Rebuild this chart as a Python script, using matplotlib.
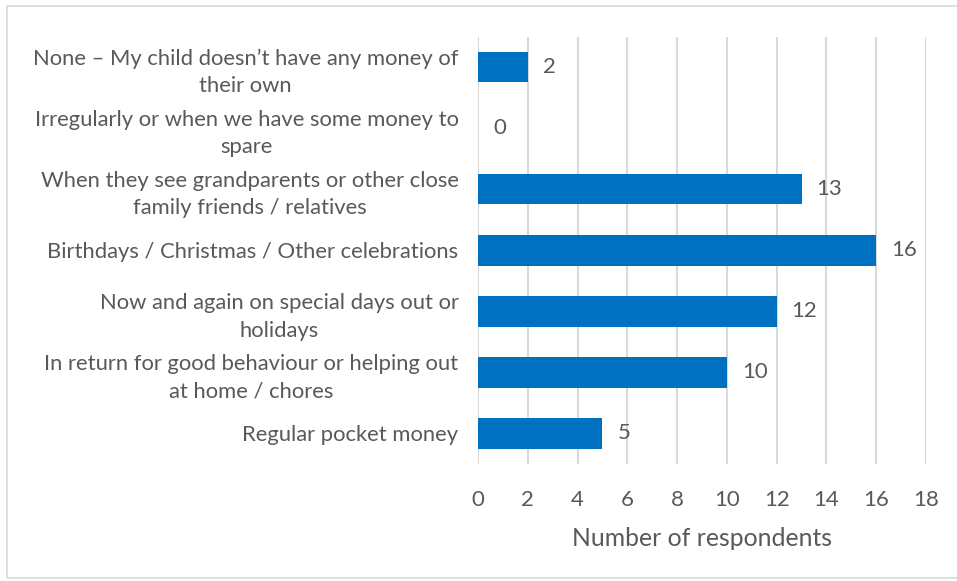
import matplotlib.pyplot as plt
from matplotlib.patches import Rectangle

categories = [
    "None \u2013 My child doesn\u2019t have any money of\ntheir own",
    "Irregularly or when we have some money to\nspare",
    "When they see grandparents or other close\nfamily friends / relatives",
    "Birthdays / Christmas / Other celebrations",
    "Now and again on special days out or\nholidays",
    "In return for good behaviour or helping out\nat home / chores",
    "Regular pocket money",
]
values = [2, 0, 13, 16, 12, 10, 5]
x_ticks = [0, 2, 4, 6, 8, 10, 12, 14, 16, 18]
x_label = "Number of respondents"

text_color = "#595959"
bar_color = "#0070C0"
grid_color = "#D9D9D9"

plt.rcParams["font.family"] = ["Lato", "DejaVu Sans"]

fig = plt.figure(figsize=(9.57, 5.81), dpi=100)
fig.patches.append(Rectangle((7 / 957, 3 / 581), 1.0, 572 / 581,
                             transform=fig.transFigure, fill=False,
                             edgecolor="#D9D9D9", linewidth=1.2))

ax = fig.add_axes([478 / 957, (581 - 464) / 581, (926 - 478) / 957, (464 - 36.5) / 581])
ypos = list(range(len(categories)))
ax.barh(ypos, values, height=0.5, color=bar_color, zorder=3)
ax.set_ylim(len(categories) - 0.5, -0.5)
ax.set_xlim(0, 18)
ax.set_xticks(x_ticks)
ax.set_xticklabels([str(t) for t in x_ticks], fontsize=16, color=text_color)
ax.set_yticks(ypos)
ax.set_yticklabels(categories, fontsize=15.8, color=text_color,
                   multialignment="center", linespacing=1.45)
ax.tick_params(axis="both", length=0)
ax.tick_params(axis="x", pad=19)
ax.tick_params(axis="y", pad=14)
ax.xaxis.grid(True, color=grid_color, linewidth=1.5, zorder=0)
for s in ax.spines.values():
    s.set_visible(False)
ax.set_xlabel(x_label, fontsize=17.8, color=text_color, labelpad=12)

for y, v in zip(ypos, values):
    ax.text(v + 0.6, y, str(v), va="center", ha="left", fontsize=16, color=text_color)

fig.savefig("out.png", dpi=100)
